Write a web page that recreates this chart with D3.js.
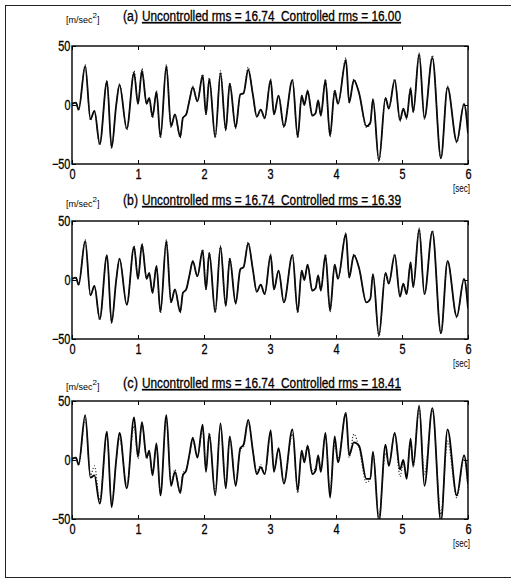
<!DOCTYPE html>
<html>
<head>
<meta charset="utf-8">
<script src="https://d3js.org/d3.v7.min.js"></script>
<style>
body { margin: 0; background: #fff; }
text { font-family: "Liberation Sans", Arial, sans-serif; fill: #000; }
</style>
</head>
<body>
<script>
// time of each turning point of the signal [sec]
var time = [0.00, 0.06, 0.10, 0.20, 0.28, 0.34, 0.42, 0.53, 0.60, 0.67, 0.72, 0.83, 0.94, 1.00,
    1.06, 1.13, 1.17, 1.22, 1.28, 1.34, 1.43, 1.50, 1.56, 1.64, 1.68, 1.73, 1.78, 1.83, 1.90,
    1.98, 2.03, 2.08, 2.17, 2.25, 2.33, 2.39, 2.48, 2.55, 2.60, 2.67, 2.74, 2.80, 2.86, 2.92,
    3.01, 3.06, 3.13, 3.21, 3.34, 3.42, 3.48, 3.52, 3.57, 3.64, 3.69, 3.73, 3.77, 3.84, 3.91,
    3.98, 4.03, 4.15, 4.20, 4.27, 4.35, 4.46, 4.52, 4.56, 4.65, 4.75, 4.80, 4.89, 4.97, 5.02,
    5.07, 5.13, 5.17, 5.26, 5.34, 5.46, 5.59, 5.69, 5.83, 5.94, 6.00];

// acceleration [m/sec^2]
var uncontrolled = [1, 2, -4, 34, -13, -5, -34, 21, -37, 0, 18, -21, 29, 1,
    31, 1, 6, -11, 12, -28, 34, -19, -8, -28, -11, -8, 4, 16, 3,
    26, -8, 23, -28, 29, -22, 19, -20, 9, 11, 32, 9, -10, -4, -12,
    22, -8, 8, -19, 22, -28, 8, 0, 13, -9, -7, 4, -9, 22, -27,
    13, 1, 40, 2, 22, 10, -19, -16, 5, -48, 6, -3, 22, -14, -3,
    -12, 15, -6, 44, -12, 42, -46, 16, -32, 1, -25];

var controlledA = [1, 2, -4, 33, -12, -5, -33, 20, -36, 0, 17, -20, 27, 1,
    29, 1, 6, -10, 11, -27, 33, -18, -8, -27, -11, -8, 4, 15, 3,
    25, -8, 22, -27, 27, -21, 18, -19, 9, 10, 30, 9, -10, -4, -11,
    21, -8, 8, -18, 21, -27, 8, 0, 12, -9, -7, 4, -9, 21, -26,
    12, 1, 38, 2, 21, 10, -18, -15, 5, -47, 6, -3, 21, -13, -3,
    -11, 14, -6, 43, -11, 40, -45, 15, -31, 1, -24];

var controlledB = [1, 2, -4, 33, -13, -5, -33, 21, -36, 0, 18, -21, 28, 1,
    30, 1, 6, -11, 12, -27, 33, -19, -8, -27, -11, -8, 4, 16, 3,
    25, -8, 23, -27, 28, -22, 18, -20, 9, 11, 31, 9, -10, -4, -12,
    21, -8, 8, -19, 21, -27, 8, 0, 13, -9, -7, 4, -9, 21, -26,
    13, 1, 39, 2, 21, 10, -19, -16, 5, -47, 6, -3, 21, -14, -3,
    -12, 15, -6, 43, -12, 41, -45, 16, -31, 1, -24];

var controlledC = [1, 2, -4, 38, -15, -13, -37, 24, -40, 0, 23, -24, 36, 3,
    32, 2, 8, -13, 14, -30, 38, -22, -10, -28, -13, -9, 5, 19, 2,
    30, -10, 22, -30, 31, -24, 20, -22, 10, 13, 34, 8, -12, -6, -12,
    25, -10, 10, -20, 26, -26, 8, -2, 12, -12, -9, 4, -10, 23, -32,
    20, -2, 40, 4, 15, 12, -16, -16, 7, -52, 13, -5, 23, -8, 0,
    -16, 18, -5, 46, -22, 44, -52, 26, -30, 4, -20];

var panelLabels = ["(a)", "(b)", "(c)"];
var uncontrolledRms = "16.74";
var controlledRms = ["16.00", "16.39", "18.41"];
var xTicks = [0, 1, 2, 3, 4, 5, 6];
var yTicks = [-50, 0, 50];

var width = 511, height = 580;
var left = 72, right = 468, boxH = 118;

var svg = d3.select("body").append("svg")
    .attr("width", width)
    .attr("height", height);

// outer frame (right edge falls outside the page)
svg.append("rect")
    .attr("x", 5.5).attr("y", 5.5)
    .attr("width", 530).attr("height", 572)
    .attr("fill", "none").attr("stroke", "#222").attr("stroke-width", 1);

var panels = [
    { top: 46, titleY: 21, controlled: controlledA },
    { top: 221, titleY: 205, controlled: controlledB },
    { top: 401, titleY: 388, controlled: controlledC }
];

var x = d3.scaleLinear().domain([0, 6]).range([left, right]);

panels.forEach(function (p, i) {
    var y = d3.scaleLinear().domain([-50, 50]).range([p.top + boxH, p.top]);
    var g = svg.append("g");

    g.append("clipPath").attr("id", "clip" + i)
        .append("rect")
        .attr("x", left).attr("y", p.top)
        .attr("width", right - left).attr("height", boxH);

    var line = function (vals) {
        return d3.line()
            .x(function (d, k) { return x(time[k]); })
            .y(function (d) { return y(d); })
            .curve(d3.curveMonotoneX)(vals);
    };

    g.append("path")
        .attr("d", line(p.controlled))
        .attr("clip-path", "url(#clip" + i + ")")
        .attr("fill", "none").attr("stroke", "#000").attr("stroke-width", 1.8)
        .attr("stroke-linejoin", "round");

    g.append("path")
        .attr("d", line(uncontrolled))
        .attr("clip-path", "url(#clip" + i + ")")
        .attr("fill", "none").attr("stroke", "#222").attr("stroke-width", 1.1)
        .attr("stroke-dasharray", "1.2,1.8");

    // axes with inward ticks
    g.append("g")
        .attr("transform", "translate(0," + (p.top + boxH) + ")")
        .call(d3.axisBottom(x).tickValues(xTicks).tickFormat(d3.format("d"))
            .tickSizeInner(-4).tickSizeOuter(0).tickPadding(5));
    g.append("g")
        .attr("transform", "translate(0," + p.top + ")")
        .call(d3.axisTop(x).tickValues(xTicks).tickFormat("")
            .tickSizeInner(-4).tickSizeOuter(0));
    var leftAx = g.append("g")
        .attr("transform", "translate(" + left + ",0)")
        .call(d3.axisLeft(y).tickValues(yTicks).tickFormat(d3.format("d"))
            .tickSizeInner(-4).tickSizeOuter(0).tickPadding(2));
    g.append("g")
        .attr("transform", "translate(" + right + ",0)")
        .call(d3.axisRight(y).tickValues(yTicks).tickFormat("")
            .tickSizeInner(-4).tickSizeOuter(0));

    g.selectAll(".domain").remove();
    g.selectAll(".tick line").attr("stroke", "#000");
    g.selectAll(".tick text")
        .attr("font-family", null)
        .style("font-size", "14px")
        .attr("stroke", "#000").attr("stroke-width", 0.3)
        .attr("transform", "scale(0.78,1)");
    leftAx.selectAll(".tick text").attr("dy", "0.35em");

    g.append("rect")
        .attr("x", left).attr("y", p.top)
        .attr("width", right - left).attr("height", boxH)
        .attr("fill", "none").attr("stroke", "#000").attr("stroke-width", 1.4);

    // units
    var unit = g.append("text")
        .attr("x", 66).attr("y", p.titleY + 2)
        .style("font-size", "9px");
    unit.append("tspan").text("[m/sec");
    unit.append("tspan").attr("dy", -5).style("font-size", "8px").text("2");
    unit.append("tspan").attr("dy", 5).text("]");

    g.append("text")
        .attr("x", right + 2).attr("y", p.top + boxH + 28)
        .attr("text-anchor", "end")
        .style("font-size", "10px")
        .attr("textLength", 17).attr("lengthAdjust", "spacingAndGlyphs")
        .text("[sec]");

    // title
    g.append("text")
        .attr("x", 123).attr("y", p.titleY)
        .style("font-size", "14px")
        .attr("stroke", "#000").attr("stroke-width", 0.3)
        .attr("textLength", 15).attr("lengthAdjust", "spacingAndGlyphs")
        .text(panelLabels[i]);
    g.append("text")
        .attr("x", 142).attr("y", p.titleY)
        .style("font-size", "14px")
        .style("white-space", "pre")
        .style("text-decoration", "underline")
        .attr("stroke", "#000").attr("stroke-width", 0.3)
        .attr("textLength", 259).attr("lengthAdjust", "spacingAndGlyphs")
        .text("Uncontrolled rms = " + uncontrolledRms + "  Controlled rms = " + controlledRms[i]);
});
</script>
</body>
</html>
